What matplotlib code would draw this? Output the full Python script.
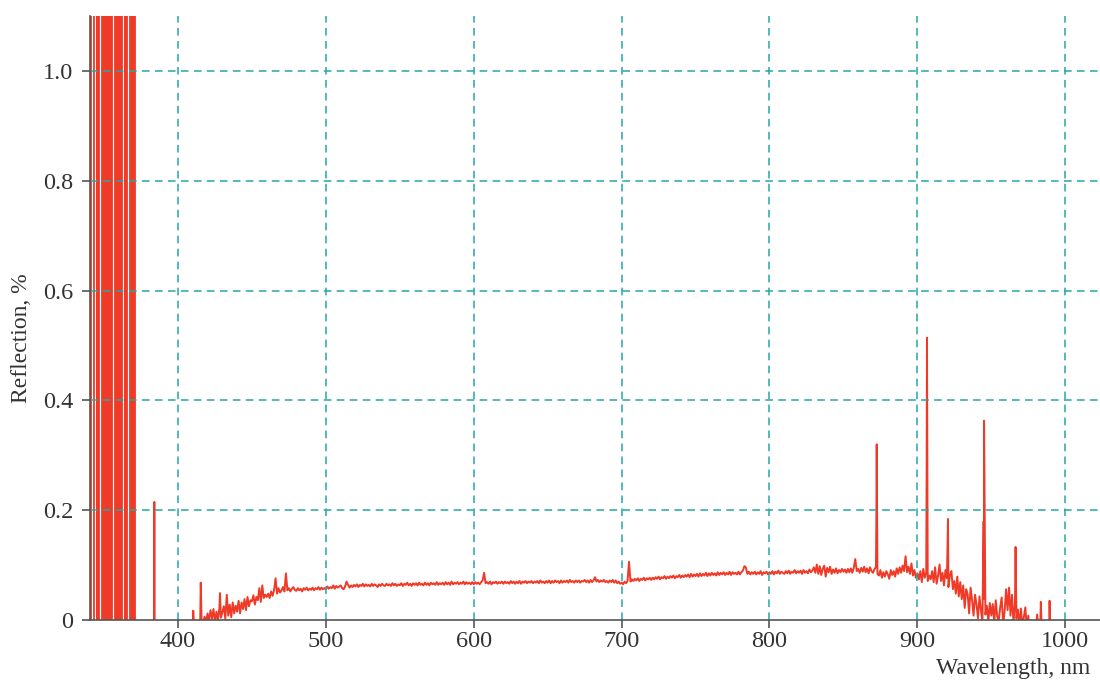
import numpy as np
import matplotlib
matplotlib.use('Agg')
import matplotlib.pyplot as plt

plt.rcParams['font.family'] = ['Liberation Serif', 'DejaVu Serif']

# saturated detector region below ~371 nm: vertical strokes (value pairs off-scale)
uv_wl = [341.1, 341.1, 343.0, 343.0, 344.9, 344.9, 345.5, 345.5,
         346.1, 346.1, 346.7, 346.7, 348.6, 348.6, 349.2, 349.2,
         349.8, 349.8, 350.4, 350.4, 351.0, 351.0, 351.6, 351.6,
         352.2, 352.2, 352.8, 352.8, 353.4, 353.4, 354.0, 354.0,
         354.7, 354.7, 355.4, 355.4, 357.3, 357.3, 357.9, 357.9,
         358.5, 358.5, 359.1, 359.1, 359.7, 359.7, 360.3, 360.3,
         360.9, 360.9, 361.5, 361.5, 362.1, 362.1, 364.0, 364.0,
         364.5, 364.5, 365.0, 365.0, 365.45, 365.45, 367.3, 367.3,
         367.9, 367.9, 368.5, 368.5, 369.1, 369.1, 369.7, 369.7,
         370.3, 370.3, 370.7, 370.7]
uv_refl = [-1, 2, 2, -1, -1, 2, 2, -1,
           -1, 2, 2, -1, -1, 2, 2, -1,
           -1, 2, 2, -1, -1, 2, 2, -1,
           -1, 2, 2, -1, -1, 2, 2, -1,
           -1, 2, 2, -1, -1, 2, 2, -1,
           -1, 2, 2, -1, -1, 2, 2, -1,
           -1, 2, 2, -1, -1, 2, 2, -1,
           -1, 2, 2, -1, -1, 2, 2, -1,
           -1, 2, 2, -1, -1, 2, 2, -1,
           -1, 2, 2, -1]

# main spectrum, 1 nm step from 410 nm, values in 1/1000
main_wl = np.arange(410, 1001)
main_refl = [
    -10, -15, -8, -12, -10, -6, -10, -4, 6, -3,       # 410
    12, -2, 18, 2, 20, -3, 15, 0, 22, 4,              # 420
    14, 25, 2, 46, 8, 28, 5, 32, 12, 26,              # 430
    15, 35, 12, 32, 20, 38, 18, 42, 25, 36,           # 440
    34, 45, 28, 42, 36, 58, 33, 63, 40, 46,           # 450
    42, 48, 40, 52, 44, 55, 76, 48, 58, 50,           # 460
    54, 60, 52, 85, 54, 58, 52, 57, 60, 55,           # 470
    53, 58, 54, 57, 52, 58, 55, 59, 54, 57,           # 480
    55, 59, 54, 58, 56, 60, 55, 59, 56, 58,           # 490
    56, 61, 57, 60, 58, 63, 57, 62, 59, 61,           # 500
    63, 58, 56, 61, 70, 64, 59, 63, 60, 64,           # 510
    61, 65, 60, 64, 62, 66, 61, 65, 62, 64,           # 520
    61, 66, 62, 65, 63, 60, 65, 62, 66, 63,           # 530
    62, 66, 63, 65, 62, 67, 63, 66, 62, 65,           # 540
    63, 67, 62, 66, 64, 68, 63, 66, 62, 67,           # 550
    64, 67, 63, 68, 64, 66, 63, 68, 64, 67,           # 560
    63, 68, 65, 67, 64, 69, 64, 67, 65, 68,           # 570
    64, 69, 65, 68, 64, 70, 65, 68, 66, 69,           # 580
    65, 68, 66, 70, 65, 69, 66, 68, 65, 69,           # 590
    65, 69, 66, 68, 65, 69, 72, 86, 67, 69,           # 600
    66, 70, 65, 69, 67, 70, 66, 69, 67, 70,           # 610
    66, 70, 67, 69, 66, 71, 67, 70, 66, 70,           # 620
    67, 71, 66, 70, 68, 71, 67, 70, 68, 71,           # 630
    67, 70, 68, 71, 67, 72, 68, 70, 67, 71,           # 640
    68, 72, 67, 71, 68, 72, 69, 71, 67, 72,           # 650
    68, 71, 69, 72, 68, 73, 69, 71, 68, 72,           # 660
    69, 72, 68, 71, 70, 73, 69, 72, 68, 73,           # 670
    69, 72, 78, 70, 73, 69, 72, 70, 73, 69,           # 680
    71, 68, 72, 69, 73, 68, 72, 67, 70, 66,           # 690
    68, 65, 70, 67, 71, 106, 70, 74, 71, 75,          # 700
    72, 76, 71, 75, 73, 77, 72, 76, 74, 77,           # 710
    73, 77, 74, 78, 75, 79, 74, 78, 76, 80,           # 720
    75, 79, 76, 80, 77, 81, 76, 80, 78, 82,           # 730
    77, 81, 78, 82, 79, 83, 78, 84, 79, 83,           # 740
    80, 84, 79, 85, 80, 84, 81, 86, 80, 85,           # 750
    81, 86, 82, 85, 81, 87, 82, 86, 83, 87,           # 760
    82, 86, 83, 88, 82, 87, 84, 86, 83, 88,           # 770
    83, 87, 90, 98, 96, 84, 88, 83, 87, 84,           # 780
    88, 83, 87, 84, 89, 82, 87, 85, 88, 83,           # 790
    87, 84, 89, 83, 88, 85, 90, 84, 88, 86,           # 800
    84, 89, 85, 90, 84, 88, 86, 91, 85, 89,           # 810
    86, 90, 84, 91, 86, 89, 85, 92, 87, 90,           # 820
    96, 86, 101, 84, 98, 82, 93, 99, 79, 95,          # 830
    87, 97, 84, 92, 86, 94, 85, 91, 87, 93,           # 840
    88, 92, 86, 93, 87, 94, 86, 95, 111, 89,          # 850
    93, 86, 95, 88, 97, 87, 94, 85, 96, 89,           # 860
    86, 93, 96, 84, 81, 91, 77, 87, 79, 89,           # 870
    83, 75, 91, 82, 89, 79, 94, 84, 96, 86,           # 880
    99, 89, 116, 87, 97, 84, 103, 81, 91, 77,         # 890
    85, 74, 89, 69, 93, 77, 86, 71, 81, 74,           # 900
    89, 69, 96, 66, 81, 101, 71, 86, 63, 91,          # 910
    76, 60, 81, 89, 56, 71, 48, 79, 43, 69,           # 920
    38, 63, 22, 56, 47, 12, 59, 36, 8, 46,            # 930
    28, 3, 43, 18, -5, 39, 10, 26, -3, 31,            # 940
    8, 29, -5, 36, 6, -2, 23, 41, -8, 16,             # 950
    56, 18, 59, 8, 46, -5, 31, 3, 19, -10,            # 960
    21, -10, 5, 23, -15, 8, -20, -10, -25, -15,       # 970
    -20, 10, -15, -20, -15, -25, -30, -20, -25, -30,  # 980
    -30, -25, -30, -35, -30, -40, -35, -30, -40, -35, -40,  # 990
]

# narrow emission-like spikes, values in 1/1000
spike_wl = [383.8, 384.0, 384.2, 410.3, 415.4, 428.4, 872.3, 872.5,
            906.3, 906.5, 920.7, 944.8, 945.1, 966.4, 983.5, 989.4]
spike_refl = [-300, 215, -300, 17, 68, 49, 200, 320,
              290, 514, 184, 180, 363, 133, 33, 35]

xticks = [400, 500, 600, 700, 800, 900, 1000]
yticks = [0, 0.2, 0.4, 0.6, 0.8, 1.0]
ytick_labels = ['0', '0.2', '0.4', '0.6', '0.8', '1.0']

assert len(main_wl) == len(main_refl)

# merge main grid with spikes
wl_m = np.concatenate([main_wl, spike_wl])
r_m = np.concatenate([main_refl, spike_refl]) / 1000.0
order = np.argsort(wl_m, kind='stable')
wl = wl_m[order]
refl = r_m[order]

fig = plt.figure(figsize=(11, 6.81), dpi=100)
ax = fig.add_axes([90 / 1100, 61 / 681, 1010 / 1100, 604 / 681])

red = '#f03a28'
ax.plot(uv_wl, uv_refl, color=red, lw=1.3, zorder=2)
ax.plot(wl, refl, color=red, lw=1.4, zorder=2)

grid_kw = dict(color='#26a6a6', lw=1.1, linestyle=(0, (5, 3.5)), zorder=3)
for x in xticks:
    ax.axvline(x, **grid_kw)
for y in yticks[1:]:
    ax.axhline(y, **grid_kw)

ax.set_xlim(340.5, 1023.5)
ax.set_ylim(0, 1.1)
ax.set_xticks(xticks)
ax.set_yticks(yticks)
ax.set_yticklabels(ytick_labels)

for s in ['top', 'right']:
    ax.spines[s].set_visible(False)
for s in ['left', 'bottom']:
    ax.spines[s].set_color('#555555')
    ax.spines[s].set_linewidth(1.2)
    ax.spines[s].set_zorder(4)

ax.tick_params(direction='out', length=6, width=1.2, color='#555555',
               labelsize=17.5, labelcolor='#333333')
ax.tick_params(axis='x', pad=2)
ax.tick_params(axis='y', pad=6)

fig.text(0.991, 0.019, 'Wavelength, nm', ha='right', va='center',
         fontsize=17, color='#333333')
fig.text(0.02, 0.504, 'Reflection, %', ha='center', va='center',
         rotation=90, fontsize=17, color='#333333')

fig.savefig('out.png', dpi=100)
